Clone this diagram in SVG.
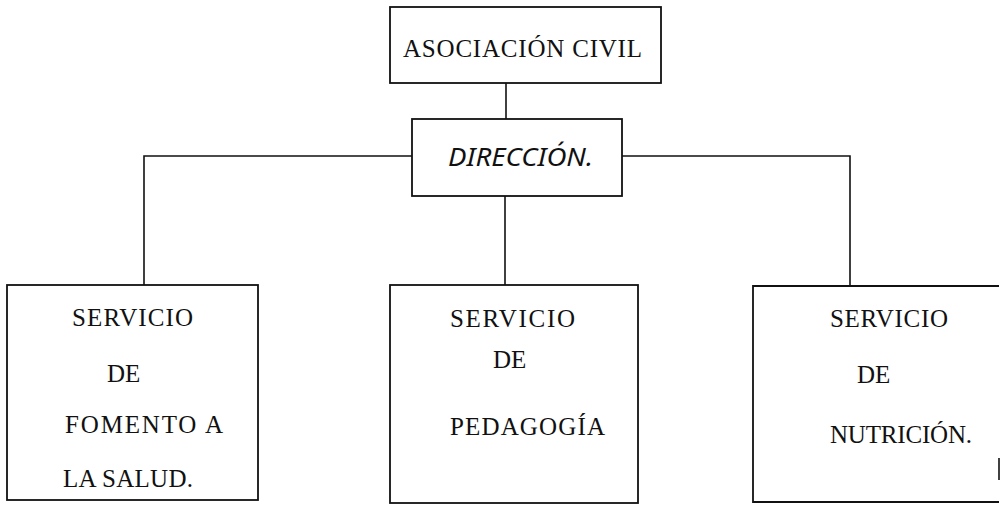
<svg xmlns="http://www.w3.org/2000/svg" width="1003" height="514" viewBox="0 0 1003 514">
<style>
.box{fill:#fff;stroke:#111;stroke-width:1.8}
.ln{fill:none;stroke:#111;stroke-width:1.6}
.t{font-family:"Liberation Serif","Times New Roman",serif;font-size:25px;fill:#111}
.d{font-family:"Noto Sans","Liberation Sans",sans-serif;font-style:italic;font-size:25px;fill:#111}
</style>
<rect width="1003" height="514" fill="#fff"/>
<g id="connectors">
<path class="ln" d="M506 83 V119"/>
<path class="ln" d="M412 156 H144 V285"/>
<path class="ln" d="M622 156 H850 V286"/>
<path class="ln" d="M505 196 V285"/>
</g>
<g id="asociacion">
<rect class="box" x="390" y="7" width="271" height="76"/>
<text class="t" x="403" y="57" textLength="239" lengthAdjust="spacing">ASOCIACIÓN CIVIL</text>
</g>
<g id="direccion">
<rect class="box" x="412" y="119" width="210" height="77"/>
<text class="d" x="448" y="166" textLength="145" lengthAdjust="spacingAndGlyphs">DIRECCIÓN.</text>
</g>
<g id="fomento">
<rect class="box" x="7" y="285" width="251" height="215"/>
<text class="t" x="72" y="326" textLength="121" lengthAdjust="spacing">SERVICIO</text>
<text class="t" x="107" y="382">DE</text>
<text class="t" x="65" y="433" textLength="158" lengthAdjust="spacing">FOMENTO  A</text>
<text class="t" x="63" y="487" textLength="130" lengthAdjust="spacing">LA SALUD.</text>
</g>
<g id="pedagogia">
<rect class="box" x="390" y="285" width="248" height="218"/>
<text class="t" x="450" y="327" textLength="125" lengthAdjust="spacing">SERVICIO</text>
<text class="t" x="493" y="368">DE</text>
<text class="t" x="450" y="435" textLength="155" lengthAdjust="spacing">PEDAGOGÍA</text>
</g>
<g id="nutricion">
<path class="box" d="M999 286 H753 V502 H999"/>
<path class="ln" d="M999 458 V480"/>
<text class="t" x="830" y="327" textLength="118" lengthAdjust="spacing">SERVICIO</text>
<text class="t" x="857" y="383">DE</text>
<text class="t" x="830" y="443" textLength="142" lengthAdjust="spacing">NUTRICIÓN.</text>
</g>
</svg>
